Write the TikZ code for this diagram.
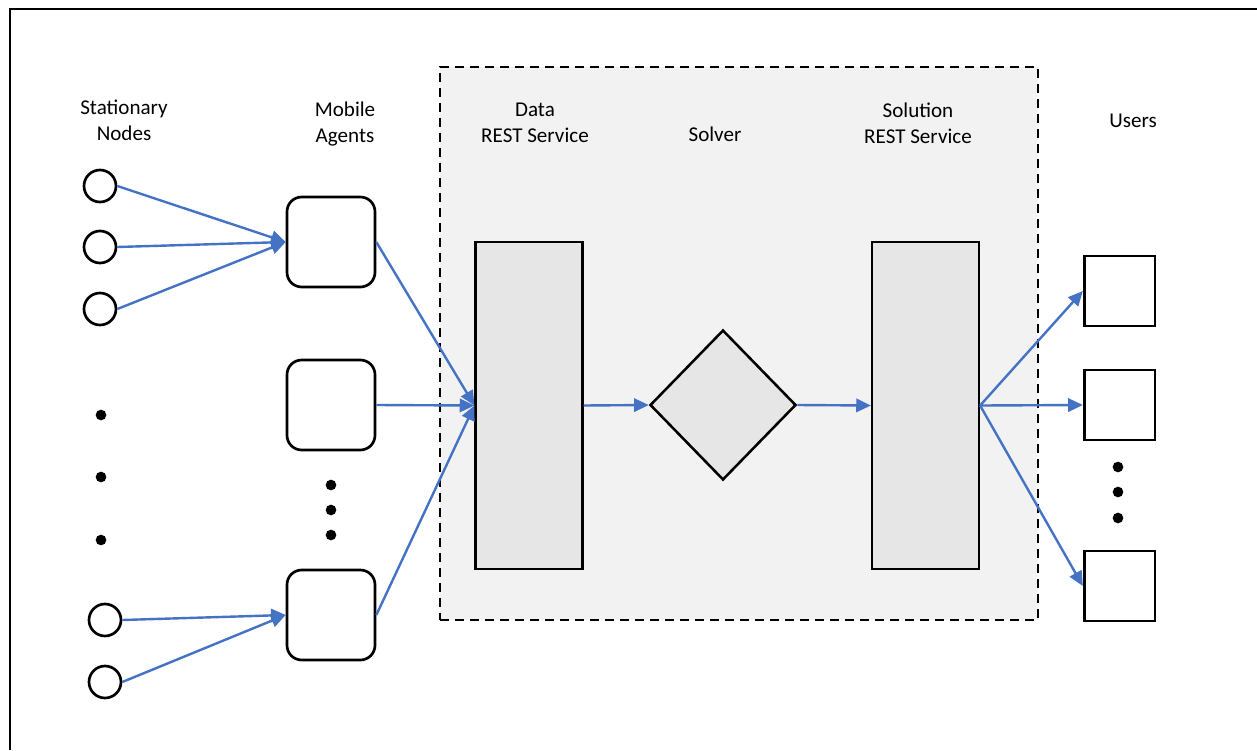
\documentclass[tikz,border=0pt]{standalone}
\usepackage{fontspec}
\setmainfont{Carlito}
\usetikzlibrary{shapes.geometric,arrows.meta}
\definecolor{arrowblue}{HTML}{4472C4}
\definecolor{panelgray}{HTML}{F2F2F2}
\definecolor{boxgray}{HTML}{E6E6E6}
\begin{document}
\begin{tikzpicture}[x=0.75pt,y=-0.75pt,
  lbl/.style={align=center,font=\fontsize{15.8}{19.5}\selectfont,inner sep=0pt},
  snode/.style={circle,draw,line width=2pt,minimum size=24pt,inner sep=0pt},
  agent/.style={draw,line width=2pt,rounded corners=11pt,minimum width=66pt,minimum height=67.5pt,inner sep=0pt},
  service/.style={draw,line width=1.9pt,fill=boxgray,minimum width=80pt,minimum height=245pt,inner sep=0pt},
  user/.style={draw,line width=2pt,minimum width=53pt,minimum height=52.5pt,inner sep=0pt},
  dot/.style={circle,fill=black,minimum size=8pt,inner sep=0pt},
  flow/.style={draw=arrowblue,line width=1.8pt,-{Triangle[length=11pt,width=10pt]}}]
\useasboundingbox (0,0) rectangle (1257,750);
\fill[white] (0,0) rectangle (1257,750);
% outer frame (only left and top edges visible)
\draw[line width=2.2pt] (10,750) -- (10,9) -- (1257,9);
% dashed panel
\node[draw,dash pattern=on 6.75pt off 4.5pt,line width=2pt,fill=panelgray,minimum width=448.5pt,minimum height=414.75pt,inner sep=0pt] (panel) at (739,343.5) {};
% labels
\node[lbl] (lsn) at (124,120) {Stationary\\Nodes};
\node[lbl] (lma) at (345,124) {Mobile\\Agents};
\node[lbl] (lds) at (535,123) {Data\\REST Service};
\node[lbl] (lsv) at (715,134) {Solver};
\node[lbl] (lss) at (918,123) {Solution\\REST Service};
\node[lbl] (lus) at (1133,121) {Users};
% stationary nodes
\node[snode] (s1) at (100,186) {};
\node[snode] (s2) at (100,247) {};
\node[snode] (s3) at (100,309) {};
\node[snode] (s4) at (105,620) {};
\node[snode] (s5) at (105,682) {};
\node[dot] (d1) at (101,415) {};
\node[dot] (d2) at (101,477) {};
\node[dot] (d3) at (101,540) {};
% mobile agents
\node[agent] (m1) at (331,242) {};
\node[agent] (m2) at (331,405) {};
\node[agent] (m3) at (331,615) {};
\node[dot] (d4) at (331,485) {};
\node[dot] (d5) at (331,510) {};
\node[dot] (d6) at (331,535) {};
% services
\node[service] (data) at (529,405.5) {};
\node[service] (sol) at (925.5,405.5) {};
\node[diamond,draw,line width=1.9pt,fill=boxgray,minimum width=109.5pt,minimum height=112.5pt,inner sep=0pt] (solver) at (723,405) {};
% users
\node[user] (u1) at (1119.5,291) {};
\node[user] (u2) at (1119.5,405) {};
\node[user] (u3) at (1119.5,586) {};
\node[dot] (d7) at (1118,467) {};
\node[dot] (d8) at (1118,492) {};
\node[dot] (d9) at (1118,518) {};
% connectors
\draw[flow] (s1.east) -- (m1.west);
\draw[flow] (s2.east) -- (m1.west);
\draw[flow] (s3.east) -- (m1.west);
\draw[flow] (s4.east) -- (m3.west);
\draw[flow] (s5.east) -- (m3.west);
\draw[flow] (m1.east) -- (data.west);
\draw[flow] (m2.east) -- (data.west);
\draw[flow] (m3.east) -- (data.west);
\draw[flow] (data.east) -- (solver.west);
\draw[flow] (solver.east) -- (sol.west);
\draw[flow] (sol.east) -- (u1.west);
\draw[flow] (sol.east) -- (u2.west);
\draw[flow] (sol.east) -- (u3.west);
\end{tikzpicture}
\end{document}
